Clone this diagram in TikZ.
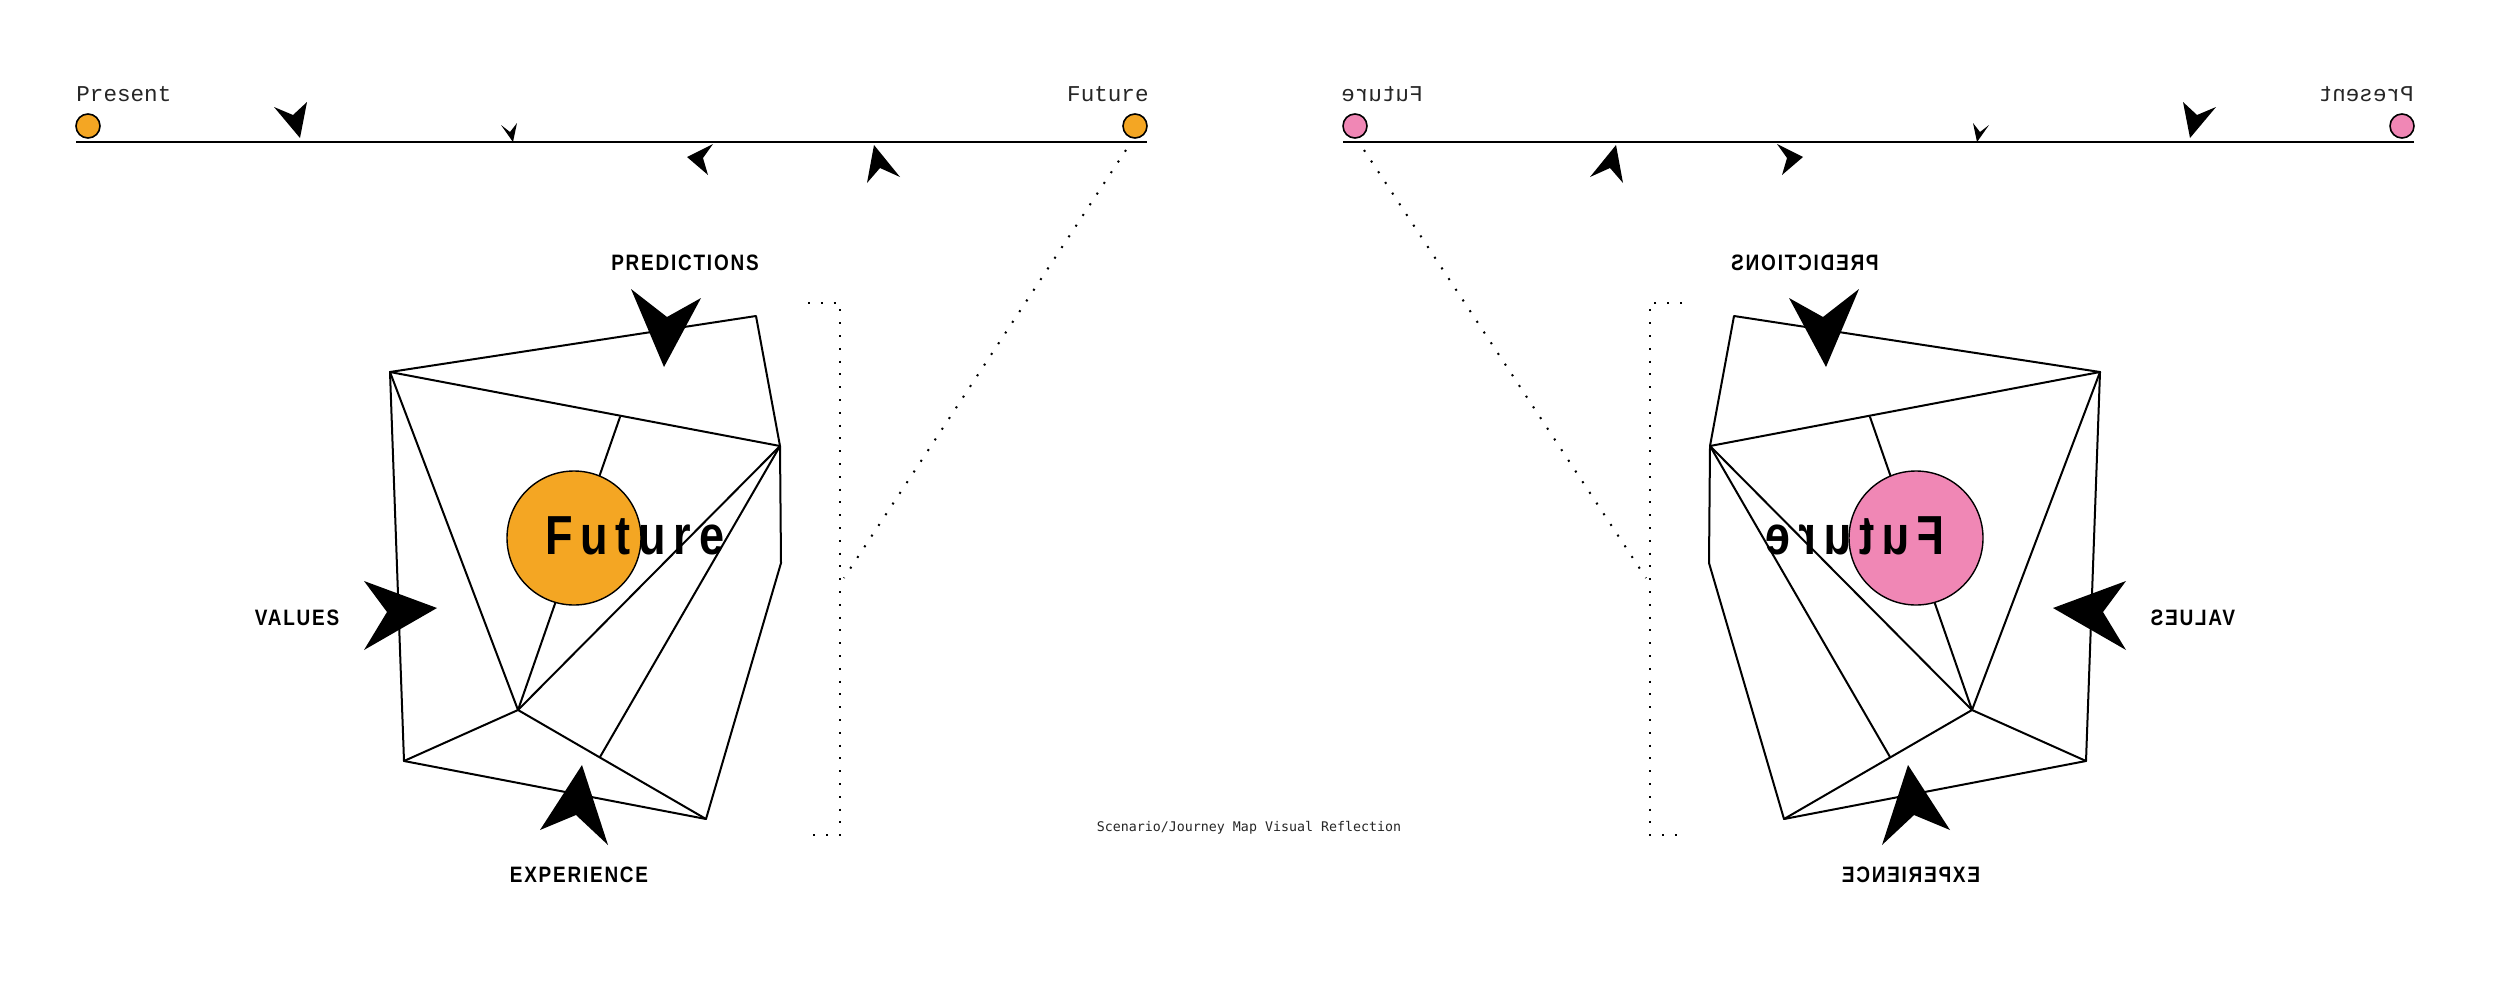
\documentclass[tikz,border=0pt]{standalone}
\usepackage{fontspec}
\setmainfont{Liberation Sans}
\newfontfamily\courierfont{Liberation Mono}
\newfontfamily\captionfont{DejaVu Sans Mono}
\newfontfamily\labelfont[FakeStretch=0.85,LetterSpace=8]{Liberation Sans Bold}
\newfontfamily\bigfont[FakeStretch=0.82,LetterSpace=14]{Liberation Sans Bold}
\definecolor{orangeF}{HTML}{F4A623}
\definecolor{pinkF}{HTML}{F087B5}
\tikzset{
  polyedge/.style={line width=1pt, line join=round, line cap=round},
  dart/.style={fill=black, draw=none},
  dotpath/.style={line width=1pt, dash pattern=on 1pt off 5.4pt},
  timeline/.style={line width=1.3pt},
  tdot/.style={circle, draw=black, line width=0.8pt, minimum size=12pt, inner sep=0pt},
  bigdot/.style={circle, draw=black, line width=0.7pt, minimum size=67pt, inner sep=0pt},
  axislbl/.style={font=\courierfont\fontsize{11.3}{13}\selectfont, inner sep=0pt, text=black!85},
  cornerlbl/.style={font=\labelfont\fontsize{11.15}{13}\selectfont, inner sep=0pt, anchor=base},
  futurelbl/.style={font=\bigfont\fontsize{27.5}{30}\selectfont, inner sep=0pt, anchor=base west},
  captionlbl/.style={font=\captionfont\fontsize{6.65}{8}\selectfont, inner sep=0pt, anchor=base, text=black!85},
}
\newcommand\halfscene[2]{%
  % timeline
  \coordinate (#2tlA) at (76,142);
  \coordinate (#2tlB) at (1147,142);
  \draw[timeline] (#2tlA) -- (#2tlB);
  \node[tdot, fill=#1] (#2pdot) at (88,126) {};
  \node[tdot, fill=#1] (#2fdot) at (1135,126) {};
  \node[axislbl, anchor=base west] (#2ptxt) at (76,101) {Present};
  \node[axislbl, anchor=base east] (#2ftxt) at (1149,101) {Future};
  % timeline darts
  \fill[dart] (300,138) -- (274,107) -- (293,115) -- (307,102) -- cycle;
  \fill[dart] (513,142) -- (501,125) -- (510,132) -- (517,123) -- cycle;
  \fill[dart] (687,157) -- (713,144) -- (703,158) -- (708,175) -- cycle;
  \fill[dart] (874,145) -- (867,183) -- (880,168) -- (900,177) -- cycle;
  % dotted bracket and diagonal
  \coordinate (#2bt) at (808,303);
  \coordinate (#2bc1) at (840,303);
  \coordinate (#2bc2) at (840,835);
  \coordinate (#2bb) at (808,835);
  \draw[dotpath] (#2bt) -- (#2bc1) -- (#2bc2) -- (#2bb);
  \coordinate (#2dgs) at (1126,150);
  \coordinate (#2dge) at (844,578);
  \draw[dotpath] (#2dgs) -- (#2dge);
  % polygon
  \coordinate (#2A) at (390,372);
  \coordinate (#2B) at (756,316);
  \coordinate (#2C) at (780,446);
  \coordinate (#2D) at (781,563);
  \coordinate (#2E) at (706,819);
  \coordinate (#2F) at (404,761);
  \coordinate (#2G) at (518,710);
  \coordinate (#2H) at (620,417);
  \coordinate (#2I) at (600,757);
  \draw[polyedge] (#2A) -- (#2B) -- (#2C) -- (#2D) -- (#2E) -- (#2F) -- cycle;
  \draw[polyedge] (#2A) -- (#2C);
  \draw[polyedge] (#2A) -- (#2G);
  \draw[polyedge] (#2H) -- (#2G);
  \draw[polyedge] (#2C) -- (#2G);
  \draw[polyedge] (#2C) -- (#2I);
  \draw[polyedge] (#2F) -- (#2G);
  \draw[polyedge] (#2G) -- (#2E);
  % big darts
  \fill[dart] (664,367) -- (631,289) -- (667,317) -- (701,298) -- cycle;
  \fill[dart] (437,608) -- (364,581) -- (387,612) -- (364,650) -- cycle;
  \fill[dart] (582,765) -- (540,830) -- (576,815) -- (608,845) -- cycle;
  % circle and text
  \node[bigdot, fill=#1] (#2circ) at (574,538) {};
  \node[futurelbl] (#2fut) at (545,554) {Future};
  \node[cornerlbl] (#2pred) at (685,270) {PREDICTIONS};
  \node[cornerlbl] (#2val) at (297,625) {VALUES};
  \node[cornerlbl] (#2exp) at (579,882) {EXPERIENCE};
}
\begin{document}
\begin{tikzpicture}[x=0.5pt,y=-0.5pt]
  \fill[white] (0,0) rectangle (2500,985);
  \useasboundingbox (0,0) rectangle (2500,985);
  \halfscene{orangeF}{l}
  \begin{scope}[shift={(2490,0)}, xscale=-1, transform shape]
    \halfscene{pinkF}{r}
  \end{scope}
  \node[captionlbl] (caption) at (1249,831) {Scenario/Journey Map Visual Reflection};
\end{tikzpicture}
\end{document}
